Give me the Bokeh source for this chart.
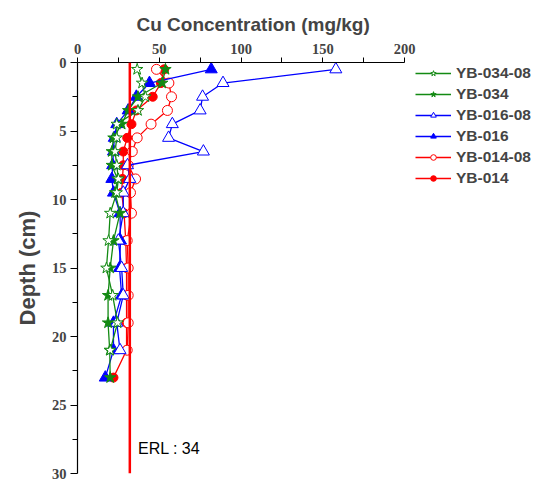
from bokeh.plotting import figure
from bokeh.models import Range1d, Legend, LegendItem, Span, Label, FixedTicker, LinearAxis, Title
from bokeh.embed import file_html
from bokeh.resources import INLINE

# ---- data ----
depth = [0.5, 1.5, 2.5, 3.5, 4.5, 5.5, 6.5, 7.5, 8.5, 9.5, 11, 13, 15, 17, 19, 21, 23]

yb034_08 = [36.5, 39.5, 41.5, 37, 24, 24, 23, 24, 25, 24, 20, 19, 17.7, 21.5, 24.5, 20]
yb034 = [53.8, 51.8, 37, 31, 27, 22, 21, 21, 24.5, 23, 26, 22, 20, 18.7, 18.7, 19.7, 20]
yb016_08 = [158, 89, 76.5, 75, 58, 55.7, 77, 30.6, 32, 28, 28, 25, 27, 28, 24, 26]
yb016 = [81.8, 44, 36, 31, 24, 22.5, 22, 21.5, 21, 22, 26, 26.3, 25.7, 27, 22, 22, 17]
yb014_08 = [48.3, 55.9, 57.5, 55, 45, 36.5, 33.5, 31, 35.5, 32.4, 33, 30.4, 31, 31, 31, 30.4]
yb014 = [53, 51, 46, 36, 33, 30.4, 28, 28, 27.5, 27, 28.5, 29.5, 30, 30, 30, 30, 22]

series_names = ["YB-034-08", "YB-034", "YB-016-08", "YB-016", "YB-014-08", "YB-014"]
series_vals = [yb034_08, yb034, yb016_08, yb016, yb014_08, yb014]
series_colors = ["#138a13", "#138a13", "#0000ff", "#0000ff", "#ff0000", "#ff0000"]
series_markers = ["star", "star", "triangle", "triangle", "circle", "circle"]
series_filled = [False, True, False, True, False, True]
series_sizes = [12, 12, 12, 12, 10, 9]

erl_value = 34
erl_position = 32
erl_text = "ERL : 34"

x_ticks = [0, 50, 100, 150, 200]
x_minor = [25, 75, 125, 175]
y_ticks = [0, 5, 10, 15, 20, 25, 30]
y_minor = [2.5, 7.5, 12.5, 17.5, 22.5, 27.5]

# ---- layout ----
W, H = 542, 487
left, top, right, bottom = 77, 62, 5, 14
axis_px = 327                       # pixel length of the 0-200 axis
frame_w = W - left - right
x_end = 200 * frame_w / axis_px

p = figure(width=W, height=H, output_backend="svg", toolbar_location=None,
           x_range=Range1d(0, x_end), y_range=Range1d(30, 0),
           x_axis_type=None,
           min_border_left=left, min_border_top=top, min_border_right=right,
           min_border_bottom=bottom)
p.grid.visible = False
p.outline_line_color = None
p.background_fill_color = "white"
p.border_fill_color = "white"

xa = LinearAxis(bounds=(0, 200))
xa.ticker = FixedTicker(ticks=x_ticks, minor_ticks=x_minor)
xa.major_label_text_font = "Liberation Serif"
xa.major_label_text_font_style = "bold"
xa.major_label_text_font_size = "14.5px"
xa.major_label_standoff = 4
xa.major_tick_out = 5
xa.major_tick_in = 0
xa.minor_tick_out = 5
xa.minor_tick_in = 0
xa.axis_line_color = "black"
xa.axis_line_width = 1.2
p.add_layout(xa, "above")

p.title = Title(text="Cu Concentration (mg/kg)", align="left", offset=59,
                text_font="Liberation Sans", text_font_style="bold",
                text_font_size="19px", standoff=12)

ya = p.yaxis[0]
ya.ticker = FixedTicker(ticks=y_ticks, minor_ticks=y_minor)
ya.axis_label = "Depth (cm)"
ya.axis_label_text_font = "Liberation Sans"
ya.axis_label_text_font_style = "bold"
ya.axis_label_text_font_size = "22px"
ya.axis_label_standoff = 9
ya.major_label_text_font = "Liberation Serif"
ya.major_label_text_font_style = "bold"
ya.major_label_text_font_size = "14.5px"
ya.major_label_standoff = 4
ya.major_tick_out = 7
ya.major_tick_in = 0
ya.minor_tick_out = 5
ya.minor_tick_in = 0
ya.axis_line_width = 1.2

# ERL line
p.add_layout(Span(location=erl_position, dimension="height", line_color="#ff0000", line_width=2.5))
p.add_layout(Label(x=erl_position + 5, y=28.2, text=erl_text, text_font="Liberation Sans",
                   text_font_size="16px", text_baseline="middle", text_color="black"))

items = []
order = list(range(len(series_names)))[::-1]
for i in order:
    vals, col = series_vals[i], series_colors[i]
    mk, filled, sz = series_markers[i], series_filled[i], series_sizes[i]
    d = depth[:len(vals)]
    fc = col if filled else "white"
    p.line(vals, d, line_color=col, line_width=1.3)
    p.scatter(vals, d, marker=mk, size=sz, line_color=col, fill_color=fc, line_width=1)
for i in range(len(series_names)):
    name, vals, col = series_names[i], series_vals[i], series_colors[i]
    mk, filled = series_markers[i], series_filled[i]
    d = depth[:len(vals)]
    fc = col if filled else "white"
    # hidden copies used only for the legend swatches
    lr = p.line(vals, d, line_color=col, line_width=1.3, visible=False)
    sr = p.scatter(vals, d, marker=mk, size=8, line_color=col,
                   fill_color=fc, line_width=1, visible=False)
    items.append(LegendItem(label=name, renderers=[lr, sr]))

frame_h = H - top - bottom
legend = Legend(items=items, location=(338, frame_h - 126), padding=0, margin=0, spacing=0,
                label_height=21, glyph_height=14, glyph_width=36, label_standoff=5,
                label_text_font="Liberation Sans", label_text_font_style="bold",
                label_text_font_size="15.5px", border_line_color=None,
                background_fill_alpha=0, inactive_fill_alpha=0, click_policy="none")
p.add_layout(legend)

open("out.html", "w").write(file_html(p, INLINE))
